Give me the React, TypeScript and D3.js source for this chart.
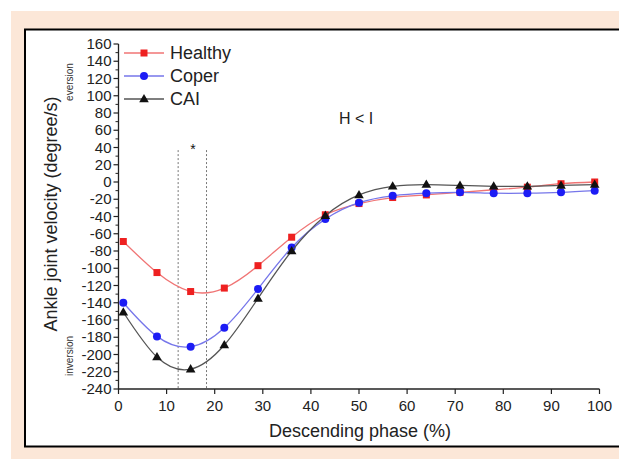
import * as d3 from "d3";

// x positions of the samples (% of descending phase)
const phase = [1, 8, 15, 22, 29, 36, 43, 50, 57, 64, 71, 78, 85, 92, 99];
const healthy = [-69, -105, -127, -123, -97, -64, -38, -25, -18, -15, -12, -9, -6, -2, 0];
const coper = [-140, -179, -191, -169, -124, -76, -43, -24, -16, -13, -12, -13, -13, -12, -10];
const cai = [-151, -203, -217, -189, -135, -80, -39, -15, -5, -3, -4, -5, -5, -4, -3];

const xTicks = [0, 10, 20, 30, 40, 50, 60, 70, 80, 90, 100];
const yTicks = d3.range(-240, 161, 20);
const yMinor = d3.range(-230, 160, 20);
const sigBand = [12.4, 18.3];

const series = [
  { name: "Healthy", values: healthy, line: "#f07474", fill: "#ee2020", shape: "square" },
  { name: "Coper", values: coper, line: "#7676ea", fill: "#1c1cf5", shape: "circle" },
  { name: "CAI", values: cai, line: "#555555", fill: "#111111", shape: "triangle" },
];

const font = "'Liberation Sans', Arial, sans-serif";

function Marker({ shape, x, y, fill }: { shape: string; x: number; y: number; fill: string }) {
  if (shape === "square") return <rect x={x - 3.5} y={y - 3.5} width={7} height={7} fill={fill} />;
  if (shape === "circle") return <circle cx={x} cy={y} r={4} fill={fill} />;
  const sym = d3.symbol().type(d3.symbolTriangle).size(40)();
  return <path d={sym || ""} transform={`translate(${x},${y + 0.5})`} fill={fill} />;
}

export default function App() {
  const x = d3.scaleLinear().domain([0, 100]).range([118.5, 599.5]);
  const y = d3.scaleLinear().domain([-240, 160]).range([389, 44]);
  const line = d3
    .line<number>()
    .x((_, i) => x(phase[i]))
    .y((d) => y(d))
    .curve(d3.curveNatural);

  return (
    <svg width={619} height={460} style={{ position: "absolute", left: 0, top: 0 }} fontFamily={font}>
      <rect x={0} y={0} width={619} height={460} fill="#ffffff" />
      <rect x={11} y={11} width={608} height={448} fill="#fce7d8" />
      <rect x={25} y={29.5} width={610} height={417} fill="#ffffff" stroke="#000" strokeWidth={2} />

      {/* significance band */}
      {sigBand.map((v) => (
        <line key={v} x1={x(v)} x2={x(v)} y1={y(37)} y2={y(-240)} stroke="#777" strokeWidth={1} strokeDasharray="2,2" />
      ))}
      <text x={x(15.5)} y={y(37) + 4} fontSize={14} textAnchor="middle" fill="#111">*</text>
      <text x={356} y={124} fontSize={16} textAnchor="middle" fill="#222">H &lt; I</text>

      {/* axes */}
      <line x1={x(0)} x2={x(100)} y1={y(-240)} y2={y(-240)} stroke="#222" strokeWidth={1.3} />
      <line x1={x(0)} x2={x(0)} y1={y(-240)} y2={y(160)} stroke="#222" strokeWidth={1.3} />
      {xTicks.map((t) => (
        <g key={t}>
          <line x1={x(t)} x2={x(t)} y1={y(-240)} y2={y(-240) + 5} stroke="#222" strokeWidth={1.2} />
          <text x={x(t)} y={y(-240) + 22} fontSize={15} textAnchor="middle" fill="#222">{t}</text>
        </g>
      ))}
      {yTicks.map((t) => (
        <g key={t}>
          <line x1={x(0) - 5} x2={x(0)} y1={y(t)} y2={y(t)} stroke="#222" strokeWidth={1.2} />
          <text x={x(0) - 7} y={y(t) + 5} fontSize={15} textAnchor="end" fill="#222">{t}</text>
        </g>
      ))}
      {yMinor.map((t) => (
        <line key={t} x1={x(0) - 3} x2={x(0)} y1={y(t)} y2={y(t)} stroke="#222" strokeWidth={1} />
      ))}

      {/* series */}
      {series.map((s) => (
        <g key={s.name}>
          <path d={line(s.values) || ""} fill="none" stroke={s.line} strokeWidth={1.3} />
          {s.values.map((v, i) => (
            <Marker key={i} shape={s.shape} x={x(phase[i])} y={y(v)} fill={s.fill} />
          ))}
        </g>
      ))}

      {/* legend */}
      {series.map((s, i) => {
        const ly = 53 + i * 23;
        return (
          <g key={s.name}>
            <line x1={124} x2={164} y1={ly} y2={ly} stroke={s.line} strokeWidth={1.3} />
            <Marker shape={s.shape} x={144} y={ly} fill={s.fill} />
            <text x={170} y={ly + 6} fontSize={18} fill="#222">{s.name}</text>
          </g>
        );
      })}

      {/* axis titles */}
      <text x={360} y={437} fontSize={18} textAnchor="middle" fill="#222">Descending phase (%)</text>
      <text transform="translate(57,214) rotate(-90)" fontSize={18} textAnchor="middle" fill="#222">
        Ankle joint velocity (degree/s)
      </text>
      <text transform="translate(73,82) rotate(-90)" fontSize={10} textAnchor="middle" fill="#333">eversion</text>
      <text transform="translate(73,356) rotate(-90)" fontSize={10} textAnchor="middle" fill="#333">inversion</text>
    </svg>
  );
}
